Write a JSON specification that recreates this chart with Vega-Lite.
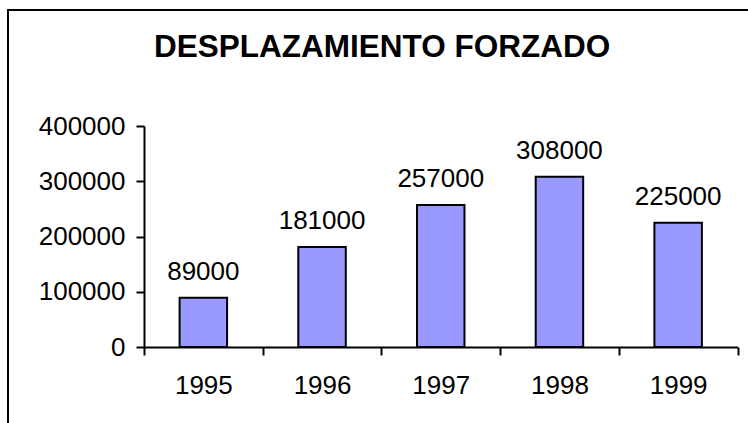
{
  "$schema": "https://vega.github.io/schema/vega-lite/v6.json",
  "autosize": {"type": "none"},
  "padding": {"left": 8, "top": 10, "right": -20, "bottom": -20},
  "width": 760,
  "height": 433,
  "background": "white",
  "title": {
    "text": "DESPLAZAMIENTO FORZADO",
    "font": "Liberation Sans",
    "fontSize": 31.5,
    "fontWeight": "bold",
    "color": "black",
    "anchor": "start",
    "frame": "group",
    "dx": 146,
    "dy": 57
  },
  "config": {
    "view": {"stroke": "black", "strokeWidth": 2},
    "font": "Liberation Sans"
  },
  "data": {
    "values": [
      {"year": "1995", "value": 89000},
      {"year": "1996", "value": 181000},
      {"year": "1997", "value": 257000},
      {"year": "1998", "value": 308000},
      {"year": "1999", "value": 225000}
    ]
  },
  "encoding": {
    "x": {
      "field": "year",
      "type": "nominal",
      "scale": {"range": [136, 729.5], "paddingInner": 0, "paddingOuter": 0},
      "axis": {
        "title": null,
        "orient": "bottom",
        "offset": -96,
        "labelAngle": 0,
        "labelFont": "Liberation Sans",
        "labelFontSize": 26,
        "labelColor": "black",
        "labelPadding": 17,
        "tickBand": "extent",
        "tickSize": 8,
        "tickColor": "black",
        "tickWidth": 2,
        "domainColor": "black",
        "domainWidth": 2
      }
    },
    "y": {
      "field": "value",
      "type": "quantitative",
      "scale": {"domain": [0, 400000], "range": [337, 116], "nice": false, "zero": true},
      "axis": {
        "title": null,
        "orient": "left",
        "offset": -136,
        "values": [0, 100000, 200000, 300000, 400000],
        "format": "d",
        "grid": false,
        "labelFont": "Liberation Sans",
        "labelFontSize": 26,
        "labelColor": "black",
        "labelPadding": 11,
        "tickSize": 8,
        "tickColor": "black",
        "tickWidth": 2,
        "domainColor": "black",
        "domainWidth": 2
      }
    }
  },
  "layer": [
    {
      "mark": {"type": "bar", "fill": "#9999FF", "stroke": "black", "strokeWidth": 2, "width": {"band": 0.4}}
    },
    {
      "mark": {"type": "text", "font": "Liberation Sans", "fontSize": 26, "color": "black", "baseline": "alphabetic", "dy": -18},
      "encoding": {"text": {"field": "value", "type": "quantitative", "format": "d"}}
    }
  ]
}
